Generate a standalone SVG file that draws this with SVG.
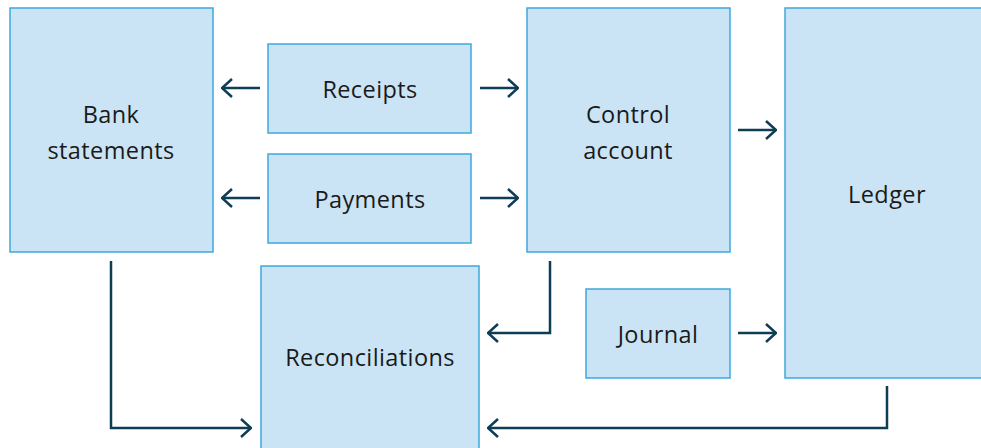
<svg xmlns="http://www.w3.org/2000/svg" width="981" height="448" viewBox="0 0 981 448">
<defs>
<style>
.box{fill:#cae4f5;stroke:#3ea8db;stroke-width:1.5}
.lbl{font-family:"Open Sans",Lato,sans-serif;font-size:23.5px;fill:#1a1a1a;text-anchor:middle;letter-spacing:0.4px}
.con{fill:none;stroke:#0e3d56;stroke-width:2.5;marker-end:url(#ah)}
</style>
<marker id="ah" viewBox="0 0 12 20" refX="11" refY="10" markerWidth="12" markerHeight="20" markerUnits="userSpaceOnUse" orient="auto">
<path d="M1,1 L11,10 L1,19" fill="none" stroke="#0e3d56" stroke-width="2.5"/>
</marker>
</defs>
<rect width="981" height="448" fill="#fff"/>
<g id="bank"><rect class="box" x="10" y="8" width="203" height="244"/><text class="lbl" x="111" y="123">Bank</text><text class="lbl" x="111" y="159">statements</text></g>
<g id="receipts"><rect class="box" x="268" y="44" width="203" height="89"/><text class="lbl" x="370" y="98">Receipts</text></g>
<g id="payments"><rect class="box" x="268" y="154" width="203" height="89"/><text class="lbl" x="370" y="208">Payments</text></g>
<g id="control"><rect class="box" x="527" y="8" width="203" height="244"/><text class="lbl" x="628" y="123">Control</text><text class="lbl" x="628" y="159">account</text></g>
<g id="ledger"><rect class="box" x="785" y="8" width="210" height="370"/><text class="lbl" x="887" y="203">Ledger</text></g>
<g id="journal"><rect class="box" x="586" y="289" width="144" height="89"/><text class="lbl" x="658" y="343">Journal</text></g>
<g id="reconciliations"><rect class="box" x="261" y="266" width="218" height="190"/><text class="lbl" x="370" y="366">Reconciliations</text></g>
<g id="connectors">
<path class="con" d="M260,88 H222"/>
<path class="con" d="M480,88 H518"/>
<path class="con" d="M260,198 H222"/>
<path class="con" d="M480,198 H518"/>
<path class="con" d="M738,130 H776"/>
<path class="con" d="M738,333 H776"/>
<path class="con" d="M550,261 V333 H488"/>
<path class="con" d="M111,261 V428 H251"/>
<path class="con" d="M887,386 V428 H488"/>
</g>
</svg>
